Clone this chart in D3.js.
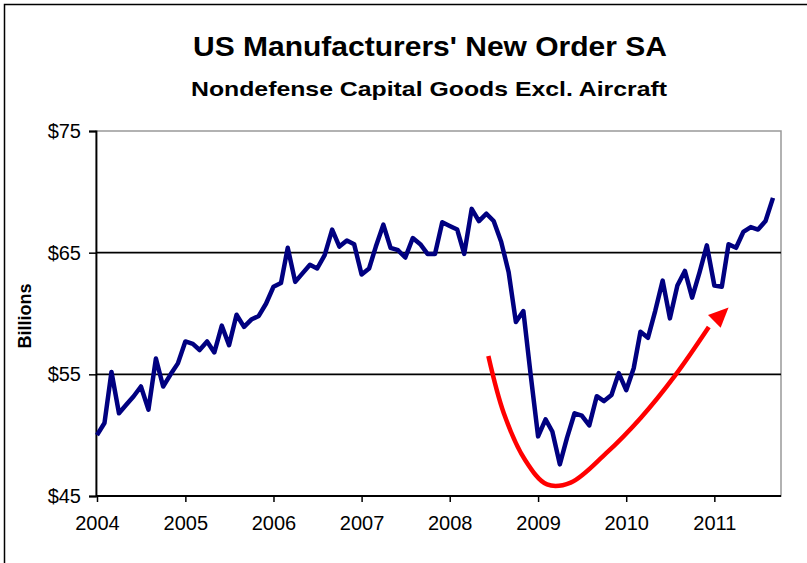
<!DOCTYPE html>
<html>
<head>
<meta charset="utf-8">
<script src="https://cdn.jsdelivr.net/npm/d3@7"></script>
<style>
  body { margin: 0; background: #fff; }
  text { font-family: "Liberation Sans", Arial, sans-serif; }
</style>
</head>
<body>
<svg id="svgchart"></svg>
<script>
'use strict'

// monthly values, Jan 2004 .. Sep 2011 (billions $)
const startYear = 2004
const orders = [
  50.0, 51.0, 55.2, 51.8, 52.5, 53.2, 54.0, 52.1, 56.3, 54.0, 55.0, 55.9,
  57.7, 57.5, 57.0, 57.7, 56.8, 59.0, 57.4, 59.9, 58.9, 59.5, 59.8, 60.8,
  62.2, 62.5, 65.4, 62.6, 63.3, 64.0, 63.7, 64.8, 66.9, 65.5, 66.0, 65.7,
  63.2, 63.7, 65.5, 67.3, 65.4, 65.2, 64.6, 66.2, 65.7, 64.9, 64.9, 67.5,
  67.2, 66.9, 64.9, 68.6, 67.6, 68.2, 67.6, 65.9, 63.4, 59.3, 60.2, 55.0,
  49.9, 51.3, 50.3, 47.6, 49.8, 51.8, 51.6, 50.8, 53.2, 52.8, 53.3, 55.1,
  53.7, 55.5, 58.5, 58.0, 60.2, 62.7, 59.6, 62.3, 63.5, 61.3, 63.4, 65.6,
  62.3, 62.2, 65.7, 65.4, 66.7, 67.1, 66.9, 67.6, 69.5
]
const yearTicks = [2004, 2005, 2006, 2007, 2008, 2009, 2010, 2011]
const yTicks = [45, 55, 65, 75]
// hand drawn red arrow, as [month index, value]
const arrowPath = [
  [53.3, 56.5], [55.4, 51.8], [58.2, 48.0], [61.2, 45.95], [64.5, 46.1],
  [69.3, 48.5], [74.0, 51.4], [78.7, 54.9], [83.3, 58.9]
]
const arrowTip = [86.0, 60.5]

const width = 807
const height = 563
const margins = {top: 131, right: 26, bottom: 67, left: 96}
const chartWidth = width - margins.left - margins.right
const chartHeight = height - margins.top - margins.bottom

const monthDate = (i) => new Date(startYear, Math.floor(i), 1 + (i % 1) * 30)

const x = d3.scaleTime()
  .domain([new Date(2004, 0, 1), new Date(2011, 8, 1)])
  .range([1, chartWidth - 8])
const y = d3.scaleLinear().domain([45, 75]).range([chartHeight, 0])

const svg = d3.select('#svgchart')
  .attr("width", width)
  .attr("height", height)

// outer frame
svg.append("rect")
  .attr("x", 4.5).attr("y", 4.5)
  .attr("width", width + 10).attr("height", height + 10)
  .attr("fill", "none").attr("stroke", "#000").attr("stroke-width", 1.5)

// titles (stretched a little, like the original picture)
svg.append("text")
  .attr("x", 193).attr("y", 56)
  .attr("textLength", 474).attr("lengthAdjust", "spacingAndGlyphs")
  .style("font-size", "28px").style("font-weight", "bold")
  .text("US Manufacturers' New Order SA")
svg.append("text")
  .attr("x", 191).attr("y", 96)
  .attr("textLength", 476).attr("lengthAdjust", "spacingAndGlyphs")
  .style("font-size", "21px").style("font-weight", "bold")
  .text("Nondefense Capital Goods Excl. Aircraft")

// y axis label
svg.append("text")
  .attr("transform", "translate(31," + 316 + ") rotate(-90)")
  .attr("text-anchor", "middle")
  .style("font-size", "18px").style("font-weight", "bold")
  .text("Billions")

const chart = svg.append("g")
  .attr("transform", "translate(" + margins.left + "," + margins.top + ")")

// plot area border (grey top and right)
chart.append("rect")
  .attr("x", 0).attr("y", 0)
  .attr("width", chartWidth).attr("height", chartHeight)
  .attr("fill", "none").attr("stroke", "#999").attr("stroke-width", 1.5)

// gridlines
chart.selectAll(".grid")
  .data(yTicks.filter(d => d > 45 && d < 75))
  .enter().append("line")
  .attr("x1", 0).attr("x2", chartWidth)
  .attr("y1", d => y(d)).attr("y2", d => y(d))
  .attr("stroke", "#000").attr("stroke-width", 1.6)

// y axis
const yAxis = chart.append("g")
  .call(d3.axisLeft(y).tickValues(yTicks).tickSize(7).tickPadding(8).tickFormat(d => "$" + d))
yAxis.select(".domain").attr("stroke-width", 1.8)
yAxis.selectAll("line").attr("stroke-width", 1.5)
yAxis.selectAll("text").style("font-size", "20px").style("font-family", "Liberation Sans, Arial, sans-serif")

// x axis
const xAxis = chart.append("g")
  .attr("transform", "translate(0," + chartHeight + ")")
  .call(d3.axisBottom(x)
    .tickValues(yearTicks.map(yr => new Date(yr, 0, 1)))
    .tickSize(6).tickPadding(14)
    .tickFormat(d3.timeFormat("%Y")))
xAxis.select(".domain").attr("d", "M0,0H" + chartWidth).attr("stroke-width", 1.8)
xAxis.selectAll("line").attr("stroke-width", 1.5)
xAxis.selectAll("text").style("font-size", "20px").style("font-family", "Liberation Sans, Arial, sans-serif")

// data line
const line = d3.line()
  .x((d, i) => x(monthDate(i)))
  .y(d => y(d))
chart.append("path")
  .datum(orders)
  .attr("d", line)
  .attr("fill", "none")
  .attr("stroke", "#000080")
  .attr("stroke-width", 4.5)
  .attr("stroke-linejoin", "round")

// red arrow annotation
const arrowLine = d3.line()
  .x(d => x(monthDate(d[0])))
  .y(d => y(d[1]))
  .curve(d3.curveCatmullRom)
chart.append("path")
  .datum(arrowPath)
  .attr("d", arrowLine)
  .attr("fill", "none")
  .attr("stroke", "#ff0000")
  .attr("stroke-width", 4.5)

// arrow head
const last = arrowPath[arrowPath.length - 1]
const bx = x(monthDate(last[0])), by = y(last[1])
const tx = x(monthDate(arrowTip[0])), ty = y(arrowTip[1])
const ang = Math.atan2(ty - by, tx - bx)
const headLen = 20, headW = 9
const baseX = tx - headLen * Math.cos(ang), baseY = ty - headLen * Math.sin(ang)
chart.append("path")
  .attr("d", "M" + tx + "," + ty +
    "L" + (baseX + headW * Math.sin(ang)) + "," + (baseY - headW * Math.cos(ang)) +
    "L" + (baseX - headW * Math.sin(ang)) + "," + (baseY + headW * Math.cos(ang)) + "Z")
  .attr("fill", "#ff0000")
</script>
</body>
</html>
